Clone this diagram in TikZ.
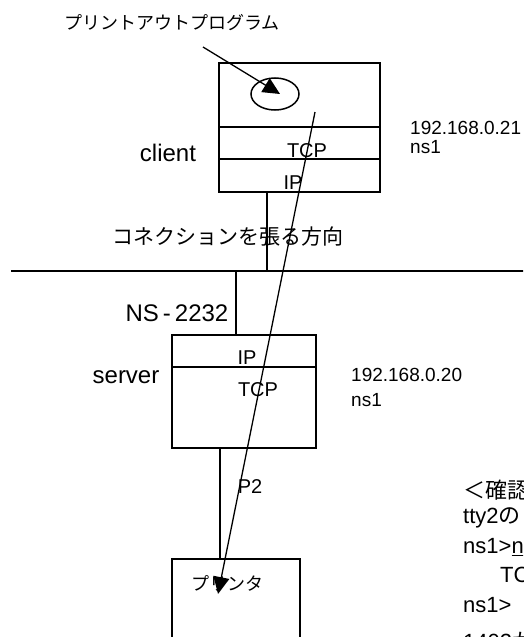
\documentclass[tikz,border=0pt]{standalone}
\usepackage{fontspec}
\setmainfont{Liberation Sans}
\newfontfamily\jpfont{Noto Sans CJK JP}
\usetikzlibrary{shapes, arrows.meta, positioning, calc}

\begin{document}
\begin{tikzpicture}[x=1pt, y=-1pt,
            layer/.style={draw=black, line width=1.8pt, inner sep=0pt},
            wire/.style={draw=black, line width=1.8pt},
            flow/.style={draw=black, line width=1.3pt, -{Triangle[length=17pt, width=16pt]}},
            txt/.style={inner sep=0pt, font=\fontsize{19}{22}\selectfont},
            mid/.style={inner sep=0pt, font=\fontsize{20}{24}\selectfont},
            big/.style={inner sep=0pt, font=\fontsize{24}{28}\selectfont},
            note/.style={inner sep=0pt, anchor=west, font=\fontsize{22}{26}\selectfont},
            jp/.style={inner sep=0pt, font=\jpfont\fontsize{18}{22}\selectfont}]
            \clip (0,0) rectangle (523,637);
            \useasboundingbox (0,0) rectangle (523,637);
            % client side
            \node[layer, minimum width=161pt, minimum height=64pt] (capp) at (299.5,95) {};
            \node[layer, minimum width=161pt, minimum height=32pt] (ctcp) at (299.5,143) {};
            \node[layer, minimum width=161pt, minimum height=33pt] (cip) at (299.5,175.5) {};
            \node[draw, ellipse, line width=1.5pt, minimum width=48pt, minimum height=32pt, inner sep=0pt] (prog) at (275,94) {};
            \node[mid] (ctcplbl) at (307,151) {TCP};
            \node[mid] (ciplbl) at (293,183) {IP};
            \node[big] (client) at (168,153) {client};
            \node[txt, anchor=west] (caddr) at (410,128) {192.168.0.21};
            \node[txt, anchor=west] (cname) at (410,147) {ns1};
            \node[jp] (proglbl) at (172,23) {プリントアウトプログラム};
            % lan
            \coordinate (lanL) at (11,271);
            \coordinate (lanR) at (530,271);
            \coordinate (ctap) at (267,271);
            \coordinate (stap) at (236,271);
            \draw[wire] (lanL) -- (lanR);
            \draw[wire] (cip.south -| ctap) -- (ctap);
            \node[jp, font=\jpfont\fontsize{21}{24}\selectfont] (dirlbl) at (228,237) {コネクションを張る方向};
            % server side
            \node[layer, minimum width=144pt, minimum height=32pt] (sip) at (244,351) {};
            \node[layer, minimum width=144pt, minimum height=81pt] (stcp) at (244,407.5) {};
            \draw[wire] (stap) -- (stap |- sip.north);
            \node[big] (nslbl) at (177,313) {NS\,-\,2232};
            \node[mid] (siplbl) at (247,358) {IP};
            \node[mid] (stcplbl) at (258,390) {TCP};
            \node[big] (server) at (126,377) {server};
            \node[txt, anchor=west] (saddr) at (351,375) {192.168.0.20};
            \node[txt, anchor=west] (sname) at (351,400) {ns1};
            % printer
            \node[layer, minimum width=128pt, minimum height=141pt] (printer) at (236,629.5) {};
            \node[jp] (prnlbl) at (227,583) {プリンタ};
            \draw[wire] ([xshift=-24pt]stcp.south) -- ([xshift=-24pt]stcp.south |- printer.north);
            \node[mid] (p2) at (250,487) {P2};
            % arrows
            \coordinate (progtail) at (203,47);
            \coordinate (progtip) at (280,94);
            \coordinate (connstart) at (315,112);
            \coordinate (connend) at (218,594);
            \draw[flow] (progtail) -- (progtip);
            \draw[flow] (connstart) -- (connend);
            % console note
            \node[note] (n1) at (463,490) {{\jpfont ＜確認}};
            \node[note] (n2) at (463,518) {tty2{\jpfont の}};
            \node[note] (n3) at (463,547) {ns1>\underline{n}};
            \node[note] (n4) at (500,575) {TC};
            \node[note] (n5) at (463,605) {ns1>};
            \node[note] (n6) at (463,641) {1402{\jpfont が}};
        \end{tikzpicture}
\end{document}
